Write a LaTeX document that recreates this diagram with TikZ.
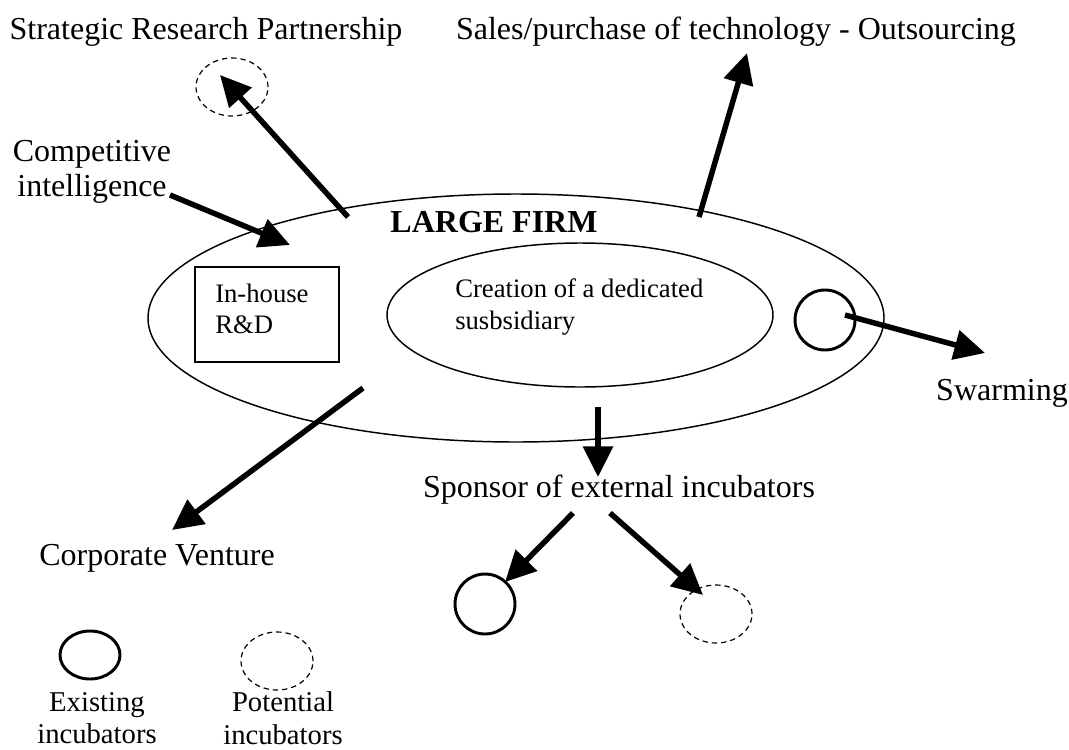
\documentclass[tikz,border=0pt]{standalone}
\usepackage{fontspec}
\setmainfont{Liberation Serif}
\usetikzlibrary{arrows.meta,shapes.geometric}

\tikzset{
  lbl/.style={font=\fontsize{24}{26.5}\selectfont, align=center, inner sep=0pt},
  small/.style={font=\fontsize{20}{23.5}\selectfont, align=left, inner sep=0pt},
  key/.style={font=\fontsize{21.5}{24.5}\selectfont, align=center, inner sep=0pt},
  push/.style={line width=4.1pt, -{Triangle[length=23pt,width=22pt]}},
  oval/.style={draw, ellipse, inner sep=0pt},
  existing/.style={oval, line width=2.2pt},
  potential/.style={oval, line width=0.9pt, dash pattern=on 4pt off 3pt}
}

\begin{document}
\begin{tikzpicture}[x=0.75pt,y=-0.75pt]
\useasboundingbox (0,0) rectangle (1069,749);

\node[oval, line width=1.1pt, minimum width=552pt, minimum height=186pt] (firm) at (516,318) {};
\node[oval, line width=1.1pt, minimum width=289.5pt, minimum height=108pt] (subs) at (580,315) {};
\node[draw, line width=1.5pt, minimum width=108pt, minimum height=71pt, inner sep=0pt] (rd) at (267,314.5) {};
\node[small, anchor=west] (rdtext) at (215,309) {In-house\\R\&D};
\node[small, anchor=west] (substext) at (455,307) {Creation of a dedicated\\susbsidiary};
\node[lbl, font=\fontsize{24}{26.5}\selectfont\bfseries] (firmtext) at (494,222) {LARGE FIRM};

\node[lbl] (srptext) at (206,32) {Strategic Research Partnership};
\node[potential, minimum width=54pt, minimum height=43.5pt] (srp) at (232,87) {};
\node[lbl] (salestext) at (736,32) {Sales/purchase of technology - Outsourcing};
\node[lbl] (ci) at (92,172) {Competitive\\intelligence};
\node[existing, minimum width=45pt, minimum height=45pt] (swarmer) at (825,320) {};
\node[lbl] (swarm) at (1002,393) {Swarming};
\node[lbl] (sponsor) at (619,490) {Sponsor of external incubators};
\node[lbl] (corp) at (157,558) {Corporate Venture};
\node[existing, minimum width=45pt, minimum height=45pt] (incexist) at (485,604) {};
\node[potential, minimum width=54pt, minimum height=43.5pt] (incpot) at (716,614) {};

\node[existing, minimum width=45pt, minimum height=36pt] (keyexist) at (90,655) {};
\node[potential, minimum width=54pt, minimum height=43.5pt] (keypot) at (277,661) {};
\node[key] (keyexisttext) at (97,718) {Existing\\incubators};
\node[key] (keypottext) at (283,718) {Potential\\incubators};

\coordinate (srpfrom) at (348,217);
\coordinate (srptip) at (220,75);
\coordinate (cifrom) at (170,195);
\coordinate (citip) at (290,245);
\coordinate (salesfrom) at (699,217);
\coordinate (salestip) at (747,53);
\coordinate (swarmfrom) at (845,315);
\coordinate (swarmtip) at (985,353);
\coordinate (corpfrom) at (363,388);
\coordinate (corptip) at (172,530);
\coordinate (sponsorfrom) at (598,407);
\coordinate (sponsortip) at (598,477);
\coordinate (existfrom) at (573,513);
\coordinate (existtip) at (505,582);
\coordinate (potfrom) at (610,513);
\coordinate (pottip) at (703,595);

\draw[push] (srpfrom) -- (srptip);
\draw[push] (cifrom) -- (citip);
\draw[push] (salesfrom) -- (salestip);
\draw[push] (swarmfrom) -- (swarmtip);
\draw[push] (corpfrom) -- (corptip);
\draw[push] (sponsorfrom) -- (sponsortip);
\draw[push] (existfrom) -- (existtip);
\draw[push] (potfrom) -- (pottip);
\end{tikzpicture}
\end{document}
